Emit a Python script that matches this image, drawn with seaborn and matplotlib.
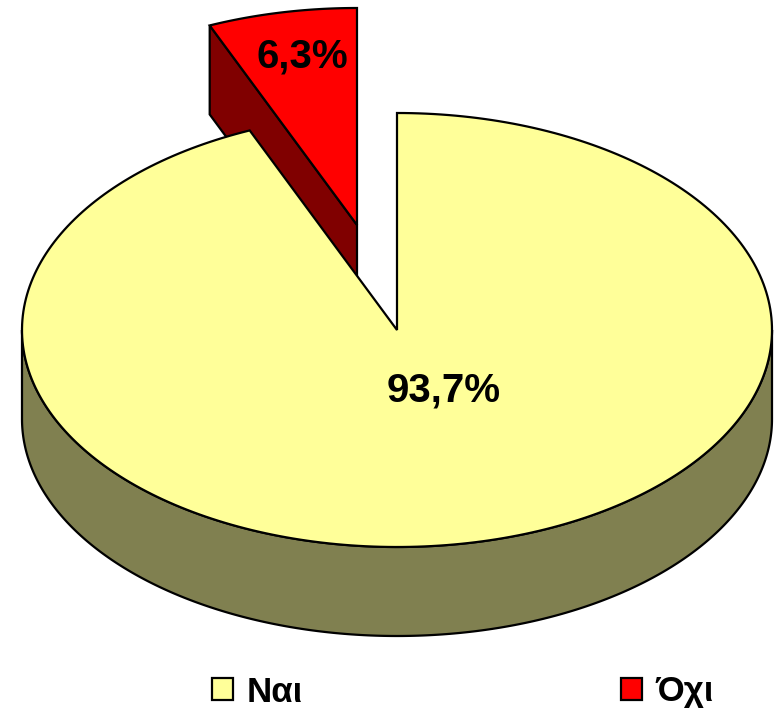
import numpy as np
import matplotlib
matplotlib.use("Agg")
import matplotlib.pyplot as plt
import seaborn as sns

# data
categories = ["Ναι", "Όχι"]
shares = [93.7, 6.3]
labels = ["93,7%", "6,3%"]
top_colors = ["#FFFF99", "#FF0000"]
side_colors = ["#808050", "#800000"]

sns.set_theme(style="white")
plt.rcParams["font.family"] = ["Liberation Sans", "DejaVu Sans"]

# pie geometry in pixels
cx, cy = 397, 330
rx, ry = 375, 217
depth = 89
explode = (-40, -105)
skew = 0.45  # the 3d view opens the small slice by a hair
lw = 1.6


def arc(theta1, theta2, x0, y0, dy=0):
    # angles in degrees, clockwise from 12 o'clock
    t = np.radians(np.linspace(theta1, theta2, 300))
    return x0 + rx * np.sin(t), y0 - ry * np.cos(t) + dy


fig = plt.figure(figsize=(7.75, 7.15), dpi=100)
ax = fig.add_axes([0, 0, 1, 1])
ax.set_xlim(0, 775)
ax.set_ylim(715, 0)
ax.axis("off")

split = shares[0] / sum(shares) * 360 - skew

# small slice, pulled out, drawn first
x1, y1 = cx + explode[0], cy + explode[1]
ox, oy = arc(split, 360, x1, y1)
ax.fill([x1, ox[0], ox[0], x1], [y1, oy[0], oy[0] + depth, y1 + depth],
        fc=side_colors[1], ec="black", lw=lw, zorder=1)
ax.fill(np.r_[x1, ox], np.r_[y1, oy], fc=top_colors[1], ec="black", lw=lw, zorder=2,
        label=categories[1])

# big slice
wx, wy = arc(90, 270, cx, cy)
wx2, wy2 = arc(270, 90, cx, cy, depth)
ax.fill(np.r_[wx, wx2], np.r_[wy, wy2], fc=side_colors[0], ec="black", lw=lw, zorder=3)
bx, by = arc(0, split, cx, cy)
ax.fill(np.r_[cx, bx], np.r_[cy, by], fc=top_colors[0], ec="black", lw=lw, zorder=4,
        label=categories[0])

ax.text(443.5, 390, labels[0], ha="center", va="center", fontsize=29, fontweight="bold",
        color="black", zorder=5)
ax.text(302, 56, labels[1], ha="center", va="center", fontsize=29, fontweight="bold",
        color="black", zorder=5)

handles, names = ax.get_legend_handles_labels()
leg = ax.legend(handles[::-1], names[::-1], ncol=2, loc="center", bbox_to_anchor=(463, 692),
                bbox_transform=ax.transData, frameon=False, handlelength=0.6, handleheight=0.6,
                handletextpad=0.4, columnspacing=9.17, borderpad=0, labelcolor="black",
                prop={"size": 25, "weight": "bold"})

fig.savefig("out.png", dpi=100)
